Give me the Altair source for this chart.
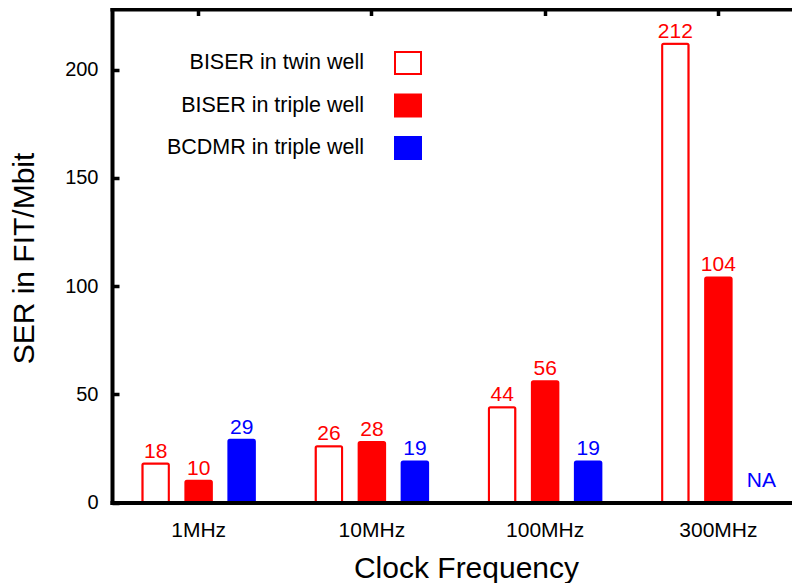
import altair as alt
import pandas as pd

freqs = ["1MHz", "10MHz", "100MHz", "300MHz"]
series = ["BISER in twin well", "BISER in triple well", "BCDMR in triple well"]
twin_well = [18, 26, 44, 212]
triple_well = [10, 28, 56, 104]
bcdmr_triple = [29, 19, 19, None]

fill_colors = ["white", "red", "blue"]
line_colors = ["red", "red", "blue"]

rows = []
for i, f in enumerate(freqs):
    for s, vals in zip(series, [twin_well, triple_well, bcdmr_triple]):
        v = vals[i]
        rows.append({"freq": f, "series": s, "value": v,
                     "label": "NA" if v is None else str(v)})
df = pd.DataFrame(rows)

FONT = "Liberation Sans"

x_scale = alt.Scale(domain=freqs, range=[0, 693], paddingInner=0.2554, paddingOuter=0.1277)
xo_scale = alt.Scale(domain=series, paddingInner=0.384, paddingOuter=0.192)
y_scale = alt.Scale(domain=[0, 228], nice=False, zero=True)

legend = alt.Legend(
    title=None, orient="none", legendX=282, legendY=40, direction="vertical",
    symbolType="M-1,-0.846H1V0.846H-1Z", symbolSize=676, symbolStrokeWidth=2,
    symbolOpacity=1, labelAlign="right", labelOffset={"expr": "-58"}, labelFontSize=21.5,
    labelFont=FONT, labelColor="black", rowPadding=12.5, padding=0, labelLimit=400,
)

base = alt.Chart(df)

bars = base.mark_bar(strokeWidth=2, cornerRadius=1.5).encode(
    x=alt.X("freq:N", sort=freqs, scale=x_scale,
            axis=alt.Axis(orient="bottom", title="Clock Frequency", labelAngle=0,
                          labelFontSize=21, labelFont=FONT, labelColor="black",
                          labelPadding=17, ticks=False, tickSize=0,
                          domain=True, domainColor="black", domainWidth=4,
                          domainCap="square", zindex=1,
                          titleFontSize=30, titleFont=FONT, titleFontWeight="normal",
                          titleColor="black", titleX=354, titleY=75,
                          titleBaseline="alphabetic")),
    xOffset=alt.XOffset("series:N", sort=series, scale=xo_scale),
    y=alt.Y("value:Q", scale=y_scale,
            axis=alt.Axis(orient="left", title="SER in FIT/Mbit", values=[0, 50, 100, 150, 200],
                          labelFontSize=20, labelFont=FONT, labelColor="black",
                          labelPadding=21, tickSize={"expr": "-7"}, tickWidth=3.5,
                          tickColor="black", domain=True, domainColor="black",
                          domainWidth=4, domainCap="square", grid=False, zindex=1,
                          titleFontSize=30, titleFont=FONT, titleFontWeight="normal",
                          titleColor="black", titleX=-79, titleY=249,
                          titleBaseline="alphabetic")),
    fill=alt.Fill("series:N", scale=alt.Scale(domain=series, range=fill_colors), legend=legend),
    stroke=alt.Stroke("series:N", scale=alt.Scale(domain=series, range=line_colors), legend=legend),
)

labels = base.mark_text(fontSize=21, font=FONT, baseline="alphabetic", dy=-6).encode(
    x=alt.X("freq:N", sort=freqs, scale=x_scale,
            axis=alt.Axis(orient="top", title=None, labels=False, domain=True,
                          domainColor="black", domainWidth=4, domainCap="square",
                          tickSize={"expr": "-6.5"}, tickWidth=3.5, tickColor="black",
                          zindex=1)),
    xOffset=alt.XOffset("series:N", sort=series, scale=xo_scale),
    y=alt.Y("value:Q", scale=y_scale, axis=None),
    color=alt.Color("series:N", scale=alt.Scale(domain=series, range=line_colors), legend=None),
    text="label:N",
).transform_filter("isValid(datum.value)")

na_label = base.mark_text(fontSize=21, font=FONT, baseline="alphabetic", dy=-16).encode(
    x=alt.X("freq:N", sort=freqs, scale=x_scale, axis=None),
    xOffset=alt.XOffset("series:N", sort=series, scale=xo_scale),
    y=alt.datum(0, axis=None),
    color=alt.Color("series:N", scale=alt.Scale(domain=series, range=line_colors), legend=None),
    text="label:N",
).transform_filter("!isValid(datum.value)")

chart = alt.layer(bars, labels, na_label).resolve_axis(
    x="independent", y="independent"
).properties(
    width=680, height=493.5, autosize="none",
    padding={"left": 104, "top": 1, "right": 0, "bottom": 90},
).configure_view(stroke=None).configure(background="white")

chart.save("out.html", embed_options={"renderer": "svg", "actions": False})
